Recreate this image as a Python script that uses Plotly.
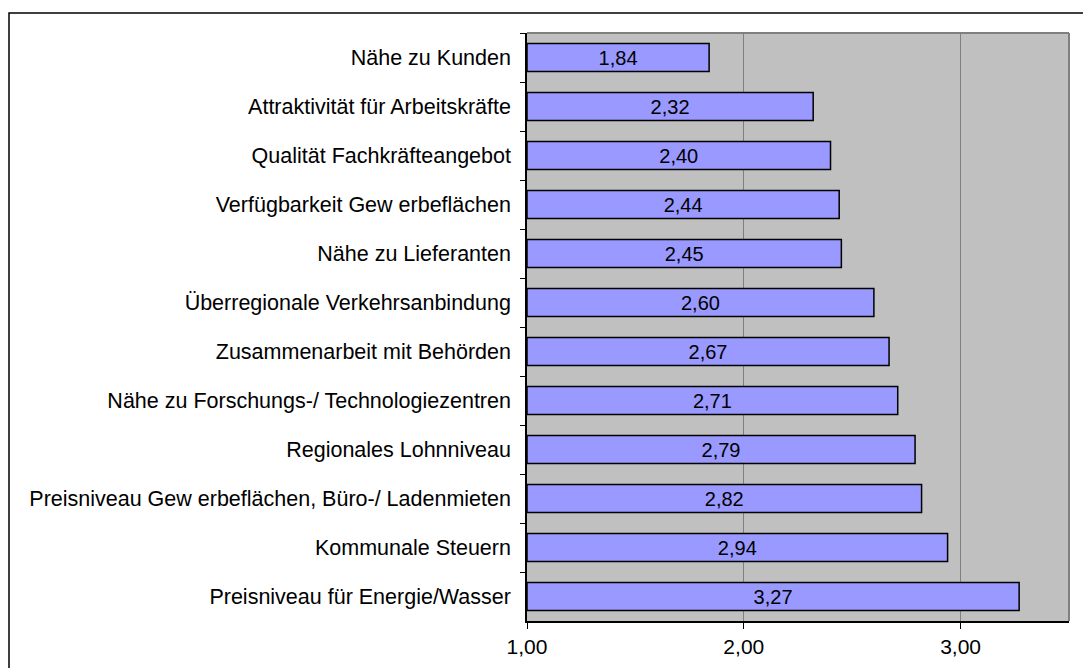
import plotly.graph_objects as go

categories = [
    'Nähe zu Kunden',
    'Attraktivität für Arbeitskräfte',
    'Qualität Fachkräfteangebot',
    'Verfügbarkeit Gew erbeflächen',
    'Nähe zu Lieferanten',
    'Überregionale Verkehrsanbindung',
    'Zusammenarbeit mit Behörden',
    'Nähe zu Forschungs-/ Technologiezentren',
    'Regionales Lohnniveau',
    'Preisniveau Gew erbeflächen, Büro-/ Ladenmieten',
    'Kommunale Steuern',
    'Preisniveau für Energie/Wasser',
]
values = [1.84, 2.32, 2.40, 2.44, 2.45, 2.60, 2.67, 2.71, 2.79, 2.82, 2.94, 3.27]
labels = ['{:.2f}'.format(v).replace('.', ',') for v in values]

font = 'Liberation Sans, Arial, sans-serif'

# page body has an 8px margin, so the figure is offset by 8px
fig = go.Figure(go.Bar(
    x=[v - 1 for v in values], base=1, y=categories, orientation='h',
    text=labels, textposition='inside', insidetextanchor='middle',
    textfont=dict(family=font, size=20, color='black'),
    marker=dict(color='#9999FF', line=dict(color='black', width=1.5)),
    width=0.575, hoverinfo='skip',
))

plot_w = 1069 - 527
plot_h = 621 - 33
fig.update_layout(
    width=1083, height=660,
    margin=dict(l=519, r=22, t=25, b=47, autoexpand=False),
    paper_bgcolor='white', plot_bgcolor='#C0C0C0',
    separators=',.',
    showlegend=False,
    font=dict(family=font, size=21, color='black'),
    shapes=[
        # outer frame (only top and left edges are in view)
        dict(type='rect', xref='paper', yref='paper',
             x0=(9 - 527) / plot_w, x1=1.2, y0=-0.2, y1=1 + 20 / plot_h,
             line=dict(color='black', width=1.5), layer='below'),
        # grey top and right edges of the plot area
        dict(type='line', xref='paper', yref='paper', x0=0, x1=1, y0=1, y1=1,
             line=dict(color='#808080', width=2), layer='above'),
        dict(type='line', xref='paper', yref='paper', x0=1, x1=1, y0=0, y1=1,
             line=dict(color='#808080', width=2), layer='above'),
    ],
)
fig.update_xaxes(
    range=[1, 3.5], tickvals=[1, 2, 3], tickformat='.2f',
    showgrid=True, gridcolor='#808080', gridwidth=1,
    ticks='outside', ticklen=6, tickcolor='black',
    showline=True, linecolor='black', linewidth=1.5,
    tickfont=dict(size=21), zeroline=False,
)
fig.update_yaxes(
    autorange='reversed', ticks='outside', tickson='boundaries',
    ticklen=5, tickcolor='black', showgrid=False,
    showline=True, linecolor='black', linewidth=1.5,
    tickfont=dict(size=21.5), ticklabelstandoff=10,
)

fig.write_html('out.html')
